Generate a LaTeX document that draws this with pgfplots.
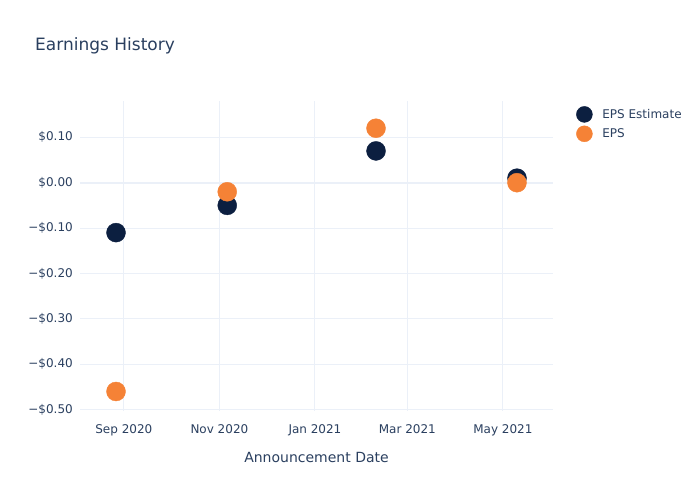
\documentclass[border=0pt]{standalone}
\usepackage{pgfplots}
\pgfplotsset{compat=1.18}
\usepackage{fontspec}
\setmainfont{DejaVu Sans}
\definecolor{txt}{HTML}{2A3F5F}
\definecolor{gridc}{HTML}{EBF0F8}
\definecolor{navy}{RGB}{12,31,64}
\definecolor{orng}{RGB}{245,130,54}
% day 0 = 1 Sep 2020
\begin{document}
\begin{tikzpicture}[x=1pt,y=1pt]
\path[use as bounding box] (0,0) rectangle (700,500);
\node[anchor=west, text=txt, font=\fontsize{17}{20}\selectfont, inner sep=0pt] at (35,454) {Earnings History};
\begin{axis}[
  at={(80pt,89pt)}, anchor=south west,
  scale only axis, width=473pt, height=310pt,
  xmin=-28, xmax=274, ymin=-0.503, ymax=0.18,
  xtick={0,61,122,181,242},
  xticklabels={Sep 2020,Nov 2020,Jan 2021,Mar 2021,May 2021},
  ytick={-0.5,-0.4,-0.3,-0.2,-0.1,0,0.1},
  yticklabels={−\$0.50,−\$0.40,−\$0.30,−\$0.20,−\$0.10,\$0.00,\$0.10},
  extra y ticks={0}, extra y tick labels={},
  extra y tick style={grid style={color=gridc, line width=2pt}},
  grid=major, grid style={color=gridc, line width=1pt},
  axis line style={draw=none}, tick style={draw=none},
  tick label style={text=txt, font=\fontsize{12}{14}\selectfont},
  yticklabel style={inner sep=0pt, xshift=-7pt},
  xticklabel style={inner sep=0pt, yshift=-13pt},
  xlabel={Announcement Date},
  xlabel style={text=txt, font=\fontsize{14}{17}\selectfont, inner sep=0pt, yshift=-16pt},
  legend style={at={(1,1)}, anchor=north west, xshift=20pt, yshift=-3pt, draw=none, fill=none,
    font=\fontsize{12}{14}\selectfont, text=txt, row sep=3pt,
    /tikz/every even column/.append style={column sep=0pt}},
  legend cell align=left,
  legend image code/.code={\fill[#1] (8pt,0pt) circle (8pt); \path[draw=none] (0pt,0pt) -- (24pt,0pt);},
  clip=false,
]
\addplot[only marks, color=navy, mark=*, mark size=9.5pt, mark options={fill=navy, draw=navy}]
  coordinates {(-5,-0.11) (66,-0.05) (161,0.07) (251,0.01)};
\addlegendentry{EPS Estimate}
\addplot[only marks, color=orng, mark=*, mark size=9.5pt, mark options={fill=orng, draw=orng}]
  coordinates {(-5,-0.46) (66,-0.02) (161,0.12) (251,0.00)};
\addlegendentry{EPS}
\end{axis}
\end{tikzpicture}
\end{document}
